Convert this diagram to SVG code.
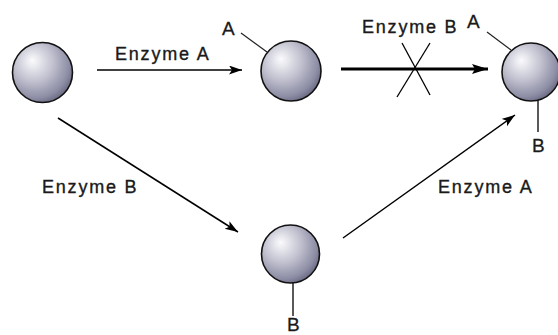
<svg xmlns="http://www.w3.org/2000/svg" width="558" height="335" viewBox="0 0 558 335">
<defs>
<radialGradient id="sph" cx="0.38" cy="0.36" r="0.68" fx="0.33" fy="0.3">
<stop offset="0" stop-color="#fbfbfd"/>
<stop offset="0.45" stop-color="#c4c4d2"/>
<stop offset="0.85" stop-color="#8c8ca4"/>
<stop offset="1" stop-color="#6a6a82"/>
</radialGradient>
<marker id="ah" markerUnits="userSpaceOnUse" markerWidth="14" markerHeight="10" refX="13" refY="4.5" orient="auto">
<path d="M0,0 L13,4.5 L0,9 L3,4.5 z" fill="#000"/>
</marker>
<marker id="ahb" markerUnits="userSpaceOnUse" markerWidth="18" markerHeight="12" refX="16" refY="5" orient="auto">
<path d="M0,0 L16,5 L0,10 L3,5 z" fill="#000"/>
</marker>
</defs>
<style>
.node circle{fill:url(#sph);stroke:#111;stroke-width:1.6}
.lead{stroke:#222;stroke-width:1.2;fill:none}
.lbl{font-family:"Liberation Sans",Arial,sans-serif;font-size:18px;fill:#1a1a1a;stroke:#1a1a1a;stroke-width:0.35;letter-spacing:1.8px}
.sm{font-family:"Liberation Sans",Arial,sans-serif;font-size:19px;fill:#1a1a1a;stroke:#1a1a1a;stroke-width:0.3}
.conn line{stroke:#000;fill:none}
</style>
<rect width="558" height="335" fill="#fff"/>
<g id="connectors" class="conn">
<line x1="97" y1="70" x2="242" y2="70" stroke-width="1.5" marker-end="url(#ah)"/>
<line x1="341" y1="69" x2="488" y2="69" stroke-width="3" marker-end="url(#ahb)"/>
<line x1="58" y1="118" x2="238" y2="232" stroke-width="1.5" marker-end="url(#ah)"/>
<line x1="343" y1="238" x2="515" y2="115" stroke-width="1.5" marker-end="url(#ah)"/>
<line x1="430" y1="43" x2="397" y2="97" stroke-width="1.3"/>
<line x1="402" y1="43" x2="430" y2="95" stroke-width="1.3"/>
</g>
<g id="labels">
<text class="lbl" x="115" y="60">Enzyme A</text>
<text class="lbl" x="362" y="33">Enzyme B</text>
<text class="lbl" x="42" y="193">Enzyme B</text>
<text class="lbl" x="438" y="193">Enzyme A</text>
</g>
<g id="n1" class="node">
<circle cx="42.5" cy="72.5" r="30"/>
</g>
<g id="n2" class="node">
<line class="lead" x1="241" y1="33" x2="267" y2="52"/>
<circle cx="291" cy="71" r="30"/>
<text class="sm" x="222" y="35">A</text>
</g>
<g id="n3" class="node">
<line class="lead" x1="487" y1="32" x2="511" y2="50"/>
<line class="lead" x1="538" y1="98" x2="538" y2="132" style="stroke-width:1.5"/>
<circle cx="531" cy="72" r="29"/>
<text class="sm" x="467" y="28">A</text>
<text class="sm" x="532" y="152">B</text>
</g>
<g id="n4" class="node">
<line class="lead" x1="293" y1="280" x2="293" y2="316" style="stroke-width:1.5"/>
<circle cx="290.5" cy="254" r="29"/>
<text class="sm" x="287" y="331">B</text>
</g>
</svg>
